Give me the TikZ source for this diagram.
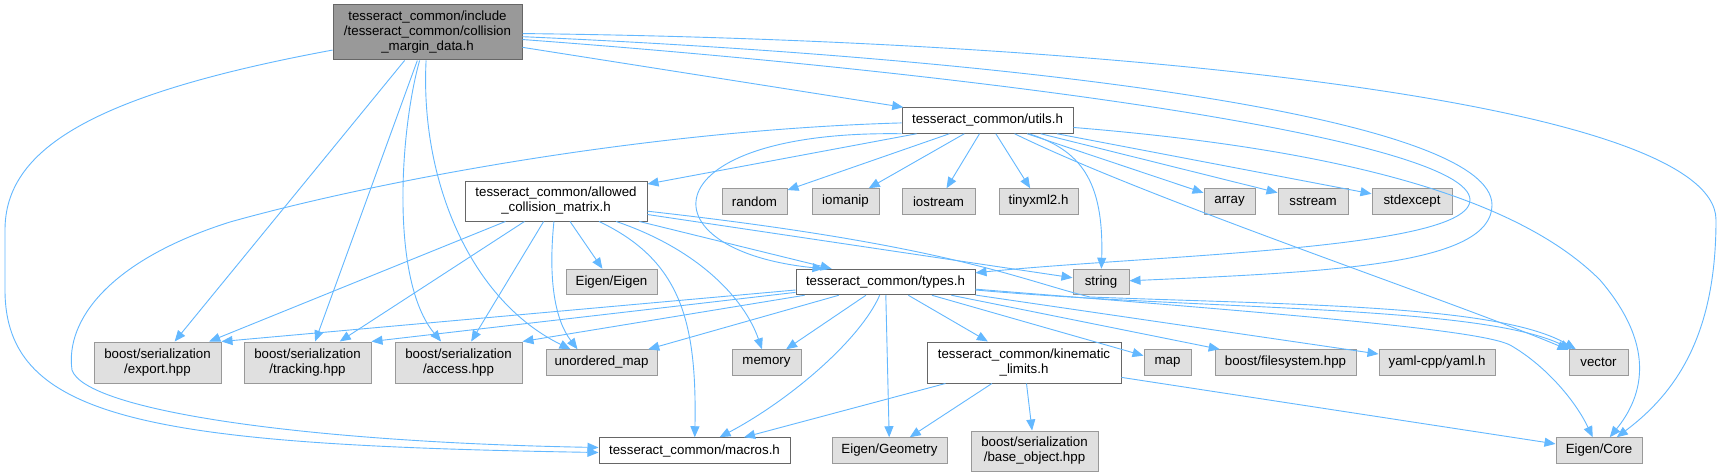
\documentclass[tikz,border=0pt]{standalone}
\usepackage{fontspec}
\setmainfont{Liberation Sans}
\usepackage{xcolor}
\usetikzlibrary{arrows.meta}
\definecolor{edgeblue}{HTML}{63B8FF}
\definecolor{docline} {HTML}{666666}
\definecolor{curfill} {HTML}{999999}
\definecolor{sysfill} {HTML}{E0E0E0}
\definecolor{sysline} {HTML}{999999}

\begin{document}
\begin{tikzpicture}[
  x=1pt, y=-1pt,
  box/.style={rectangle, inner sep=0pt, minimum height=25.5pt, align=center,
              font=\fontsize{13.3}{15}\selectfont, line width=1pt},
  cur/.style={box, draw=docline, fill=curfill},
  hdr/.style={box, draw=docline, fill=white},
  sys/.style={box, draw=sysline, fill=sysfill},
  >={Triangle[length=11pt, width=9pt]}, arr/.style={->, edgeblue, line width=0.9pt}
]
\fill[white] (0,0) rectangle (1721,476);
\useasboundingbox (0,0) rectangle (1721,476);

\node[cur, minimum width=189pt, minimum height=55pt] (root) at (427.5,32.5) {tesseract\_common/include\\/tesseract\_common/collision\\\_margin\_data.h};
\node[hdr, minimum width=171pt] (utils) at (987.5,120.5) {tesseract\_common/utils.h};
\node[hdr, minimum width=182pt, minimum height=40pt] (acm) at (556,201) {tesseract\_common/allowed\\\_collision\_matrix.h};
\node[sys, minimum width=65pt] (random) at (754.5,201.5) {random};
\node[sys, minimum width=67pt] (iomanip) at (845.5,201.5) {iomanip};
\node[sys, minimum width=73pt] (iostream) at (938.5,201.5) {iostream};
\node[sys, minimum width=79pt] (tinyxml) at (1038.5,201.5) {tinyxml2.h};
\node[sys, minimum width=51pt] (array) at (1229.5,201.5) {array};
\node[sys, minimum width=70pt] (sstream) at (1313,201.5) {sstream};
\node[sys, minimum width=80pt] (stdexcept) at (1412,201.5) {stdexcept};
\node[sys, minimum width=91pt] (eigen) at (611.5,282) {Eigen/Eigen};
\node[hdr, minimum width=179pt] (types) at (885.5,282) {tesseract\_common/types.h};
\node[sys, minimum width=56pt] (string) at (1101,282) {string};
\node[sys, minimum width=127pt, minimum height=41pt] (export) at (157.5,362.5) {boost/serialization\\/export.hpp};
\node[sys, minimum width=127pt, minimum height=41pt] (tracking) at (307.5,362.5) {boost/serialization\\/tracking.hpp};
\node[sys, minimum width=127pt, minimum height=41pt] (access) at (458.5,362.5) {boost/serialization\\/access.hpp};
\node[sys, minimum width=111pt] (umap) at (601.5,362.5) {unordered\_map};
\node[sys, minimum width=69pt] (memory) at (766.5,362.5) {memory};
\node[hdr, minimum width=194pt, minimum height=41pt] (kinlim) at (1024,362.5) {tesseract\_common/kinematic\\\_limits.h};
\node[sys, minimum width=47pt] (map) at (1167.5,362.5) {map};
\node[sys, minimum width=141pt] (fs) at (1285.5,362.5) {boost/filesystem.hpp};
\node[sys, minimum width=116pt] (yaml) at (1437,362.5) {yaml-cpp/yaml.h};
\node[sys, minimum width=59pt] (vector) at (1598.5,362.5) {vector};
\node[hdr, minimum width=191pt] (macros) at (694.5,450.5) {tesseract\_common/macros.h};
\node[sys, minimum width=115pt] (geometry) at (889.5,450.5) {Eigen/Geometry};
\node[sys, minimum width=127pt, minimum height=40pt] (baseobj) at (1034.5,451) {boost/serialization\\/base\_object.hpp};
\node[sys, minimum width=86pt] (ecore) at (1599,450.5) {Eigen/Core};

\draw[arr] (root) -- (utils);
\draw[arr] (root) .. controls (90,95) and (5,150) .. (5,230) -- (5,290) .. controls (5,420) and (150,445) .. ([yshift=-2pt]macros.west);
\draw[arr] (root) -- (export);
\draw[arr] (root) -- (tracking);
\draw[arr] (root) .. controls (400,130) and (390,280) .. (access);
\draw[arr] (root) .. controls (420,180) and (470,300) .. ([xshift=-31pt]umap.north);
\draw[arr] (root) .. controls (1100,40) and (1716,100) .. (1716,220) .. controls (1716,330) and (1680,390) .. (ecore);
\draw[arr] (root) .. controls (1000,75) and (1470,140) .. (1470,200) .. controls (1470,250) and (1150,255) .. (types);
\draw[arr] (root) .. controls (1050,60) and (1492,120) .. (1492,205) .. controls (1492,265) and (1330,272) .. (string);

\draw[arr] (utils) -- (acm);
\draw[arr] (utils) .. controls (650,130) and (380,180) .. (230,222) .. controls (110,260) and (65,320) .. (72,370) .. controls (85,410) and (300,442) .. ([yshift=3pt]macros.west);
\draw[arr] (utils.south west) .. controls (650,130) and (640,250) .. ([xshift=-62pt]types.north);
\draw[arr] (utils) -- (random);
\draw[arr] (utils) -- (iomanip);
\draw[arr] (utils) -- (iostream);
\draw[arr] (utils) -- (tinyxml);
\draw[arr] (utils) .. controls (1080,150) and (1104,180) .. (string);
\draw[arr] (utils) .. controls (1150,200) and (1450,300) .. (vector);
\draw[arr] (utils) -- (array);
\draw[arr] (utils) -- (sstream);
\draw[arr] (utils) -- (stdexcept);
\draw[arr] (utils) .. controls (1350,150) and (1520,200) .. (1600,280) .. controls (1660,350) and (1640,400) .. (ecore);

\draw[arr] (acm) -- (export);
\draw[arr] (acm) -- (tracking);
\draw[arr] (acm) -- (access);
\draw[arr] (acm) .. controls (548,280) and (555,320) .. ([xshift=-24pt]umap.north);
\draw[arr] (acm) -- (eigen);
\draw[arr] (acm) .. controls (680,260) and (697,320) .. (macros);
\draw[arr] (acm) .. controls (700,250) and (745,300) .. (memory);
\draw[arr] (acm) -- (types);
\draw[arr] (acm) -- (string);
\draw[arr] (acm) .. controls (950,245) and (1020,280) .. (1090,297) .. controls (1300,305) and (1500,305) .. (vector);

\draw[arr] (types) -- (export.north east);
\draw[arr] (types) -- (tracking.north east);
\draw[arr] (types) -- (access.north east);
\draw[arr] (types) -- (umap);
\draw[arr] (types) -- (memory);
\draw[arr] (types) .. controls (860,340) and (790,400) .. (macros);
\draw[arr] (types) -- (geometry);
\draw[arr] (types) -- (kinlim);
\draw[arr] (types) -- (map);
\draw[arr] (types) -- (fs);
\draw[arr] (types) -- (yaml);
\draw[arr] (types) .. controls (1200,310) and (1480,305) .. (vector);
\draw[arr] (types) .. controls (1300,315) and (1480,330) .. (1510,345) .. controls (1545,365) and (1575,400) .. (ecore);

\draw[arr] (kinlim) -- (macros);
\draw[arr] (kinlim) -- (geometry);
\draw[arr] (kinlim) -- (baseobj);
\draw[arr] (kinlim) -- (ecore);
\end{tikzpicture}
\end{document}
